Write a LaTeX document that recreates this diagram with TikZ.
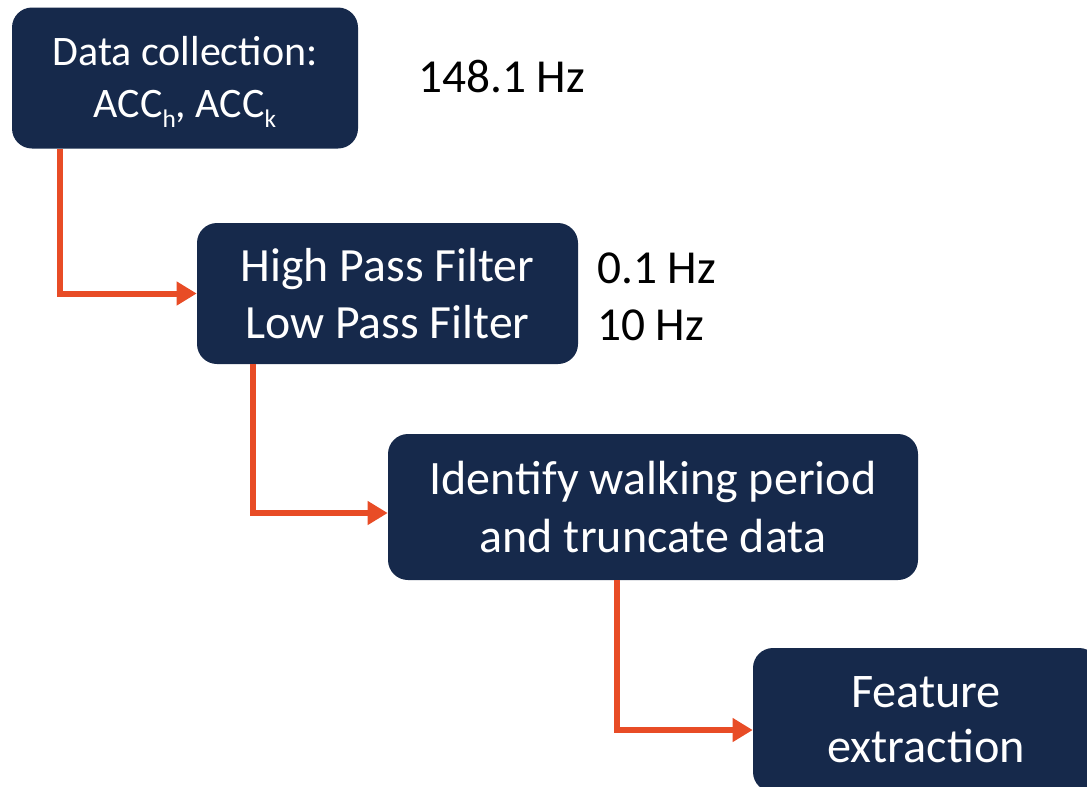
\documentclass[tikz,border=0pt]{standalone}
\usepackage{fontspec}
\setmainfont{Carlito}
\usetikzlibrary{arrows.meta}
\definecolor{navy}{HTML}{16294B}
\definecolor{flow}{HTML}{E84C26}
\newcommand{\lowsub}[1]{\raisebox{-7.5pt}{\fontsize{19}{19}\selectfont #1}}
\begin{document}
\begin{tikzpicture}[x=0.75pt,y=-0.75pt,
  stepbox/.style={fill=navy,rounded corners=15pt,text=white,align=center,inner sep=0pt},
  flowarrow/.style={draw=flow,line width=4.5pt,-{Triangle[length=15pt,width=17pt]}},
  hzlabel/.style={anchor=base west,inner sep=0pt,font=\fontsize{35.5}{40}\selectfont}]
\useasboundingbox (0,0) rectangle (1087,786);
\node[stepbox,minimum width=259.5pt,minimum height=105.75pt] (b1) at (185,78) {};
\node[text=white,align=center,inner sep=0pt,anchor=base,font=\fontsize{31.5}{39}\selectfont]
  (t1) at (185,117) {Data collection:\\ACC\lowsub{h}, ACC\lowsub{k}};
\node[stepbox,minimum width=285.75pt,minimum height=105.75pt,font=\fontsize{35.8}{43}\selectfont]
  (b2) at (387.5,293.5) {High Pass Filter\\Low Pass Filter};
\node[stepbox,minimum width=397.5pt,minimum height=109.5pt,font=\fontsize{36}{43}\selectfont]
  (b3) at (653,507) {Identify walking period\\and truncate data};
\node[stepbox,minimum width=259.5pt,minimum height=108pt,font=\fontsize{36.2}{41.5}\selectfont]
  (b4) at (926,720) {Feature\\extraction};
\node[hzlabel] (l1) at (418,92) {148.1 Hz};
\node[hzlabel] (l2) at (597,283) {0.1 Hz};
\node[hzlabel] (l3) at (597,340) {10 Hz};
\draw[flowarrow] ([xshift=36pt]b1.south west) |- (b2.west);
\draw[flowarrow] ([xshift=42pt]b2.south west) |- ([yshift=-4.5pt]b3.west);
\draw[flowarrow] ([xshift=171.75pt]b3.south west) |- ([yshift=-7.5pt]b4.west);
\end{tikzpicture}
\end{document}
